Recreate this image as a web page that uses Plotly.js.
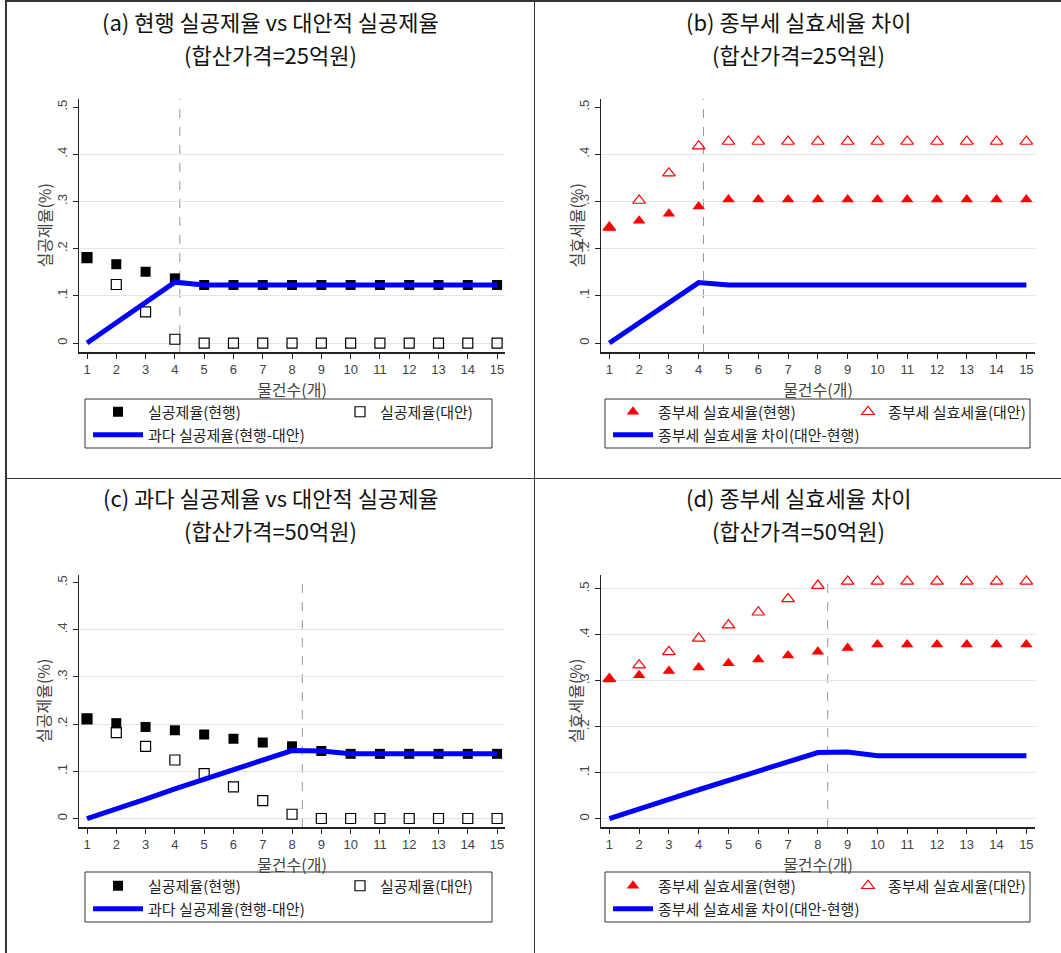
<!DOCTYPE html>
<html><head><meta charset="utf-8">
<script src="https://cdn.plot.ly/plotly-3.0.1.min.js"></script>
<style>
html,body{margin:0;padding:0;background:#fff;}
#page{position:relative;width:1061px;height:953px;overflow:hidden;background:#fff;}
.cell{position:absolute;}
.rule{position:absolute;background:#333;}
</style></head><body>
<div id="page">
  <div class="rule" style="left:5px;top:0;width:2px;height:953px"></div>
  <div class="rule" style="left:5px;top:0;width:1056px;height:2px"></div>
  <div class="rule" style="left:534px;top:0;width:1px;height:953px"></div>
  <div class="rule" style="left:5px;top:478px;width:1056px;height:1px"></div>
  <div id="pa" class="cell" style="left:7px;top:2px;width:527px;height:476px"></div>
  <div id="pb" class="cell" style="left:535px;top:2px;width:526px;height:476px"></div>
  <div id="pc" class="cell" style="left:7px;top:479px;width:527px;height:474px"></div>
  <div id="pd" class="cell" style="left:535px;top:479px;width:526px;height:474px"></div>
</div>
<script>
// ---------- data ----------
const count = [1,2,3,4,5,6,7,8,9,10,11,12,13,14,15];
const xTickText = ['1','2','3','4','5','6','7','8','9','10','11','12','13','14','15'];
const yTickVals = [0, 0.1, 0.2, 0.3, 0.4, 0.5];
const yTickText = ['0', '.1', '.2', '.3', '.4', '.5'];
const gridShort = [0, 0.1, 0.2, 0.3, 0.4];
const gridFull  = [0, 0.1, 0.2, 0.3, 0.4, 0.5];

// (a) 25억원 실공제율
const aCurrent = [0.181,0.167,0.151,0.137,0.123,0.123,0.123,0.123,0.123,0.123,0.123,0.123,0.123,0.123,0.123];
const aAlt     = [0.181,0.124,0.066,0.008,0,0,0,0,0,0,0,0,0,0,0];
const aDiff    = [0,0.043,0.085,0.129,0.123,0.123,0.123,0.123,0.123,0.123,0.123,0.123,0.123,0.123,0.123];
// (b) 25억원 종부세 실효세율
const bCurrent = [0.245,0.259,0.274,0.289,0.304,0.304,0.304,0.304,0.304,0.304,0.304,0.304,0.304,0.304,0.304];
const bAlt     = [0.245,0.302,0.360,0.417,0.427,0.427,0.427,0.427,0.427,0.427,0.427,0.427,0.427,0.427,0.427];
const bDiff    = [0,0.043,0.086,0.128,0.123,0.123,0.123,0.123,0.123,0.123,0.123,0.123,0.123,0.123,0.123];
// (c) 50억원 실공제율
const cCurrent = [0.211,0.202,0.194,0.187,0.178,0.169,0.161,0.153,0.143,0.137,0.137,0.137,0.137,0.137,0.137];
const cAlt     = [0.211,0.182,0.153,0.124,0.095,0.067,0.038,0.009,0,0,0,0,0,0,0];
const cDiff    = [0,0.020,0.041,0.063,0.083,0.102,0.123,0.144,0.143,0.137,0.137,0.137,0.137,0.137,0.137];
// (d) 50억원 종부세 실효세율
const dCurrent = [0.304,0.312,0.321,0.329,0.338,0.346,0.355,0.363,0.371,0.379,0.379,0.379,0.379,0.379,0.379];
const dAlt     = [0.304,0.334,0.363,0.392,0.421,0.449,0.478,0.507,0.516,0.516,0.516,0.516,0.516,0.516,0.516];
const dDiff    = [0,0.022,0.042,0.063,0.083,0.103,0.123,0.144,0.145,0.137,0.137,0.137,0.137,0.137,0.137];

// threshold (vertical dashed line) positions
const thresholds = {a: 4.17, b: 4.16, c: 8.35, d: 8.33};

const titles = {
  a: ['(a) 현행 실공제율 vs 대안적 실공제율', '(합산가격=25억원)'],
  b: ['(b) 종부세 실효세율 차이', '(합산가격=25억원)'],
  c: ['(c) 과다 실공제율 vs 대안적 실공제율', '(합산가격=50억원)'],
  d: ['(d) 종부세 실효세율 차이', '(합산가격=50억원)']
};
const namesDeduct = ['실공제율(현행)', '실공제율(대안)', '과다 실공제율(현행-대안)'];
const namesTax = ['종부세 실효세율(현행)', '종부세 실효세율(대안)', '종부세 실효세율 차이(대안-현행)'];
const xTitle = '물건수(개)';
const yTitleDeduct = '실공제율(%)';
const yTitleTax = '실효세율(%)';

// ---------- drawing ----------
const FONT = 'Liberation Sans, Noto Sans CJK KR, sans-serif';
const KFONT = 'Noto Sans CJK KR, sans-serif';

function panel(div, o) {
  const plotW = o.W - o.l - o.r;
  const plotH = o.H - o.t - o.b;
  const py = p => (o.H - o.b - p) / plotH;   // cell pixel -> paper y
  const px = p => (p - o.l) / plotW;         // cell pixel -> paper x
  const traces = [
    {x: count, y: o.cur, name: o.names[0], type: 'scatter', mode: 'markers', legend: 'legend',
     marker: {symbol: o.sym, size: o.msize, color: o.color, line: {width: 0}}},
    {x: count, y: o.alt, name: o.names[1], type: 'scatter', mode: 'markers', legend: 'legend2',
     marker: {symbol: o.sym + '-open', size: o.msize, color: o.color, line: {width: 1.2, color: o.color}}},
    {x: count, y: o.diff, name: o.names[2], type: 'scatter', mode: 'lines', legend: 'legend3',
     line: {color: '#0000ff', width: 5}}
  ];
  const leg = (x, y, iw) => ({orientation: 'h', x: px(x), xanchor: 'left', y: py(y), yanchor: 'middle',
      borderwidth: 0, bgcolor: 'rgba(0,0,0,0)', itemwidth: iw,
      font: {size: 15, color: '#222', family: KFONT}});
  const titleFont = {size: 22, color: '#111', family: KFONT};
  const layout = {
    width: o.W, height: o.H,
    margin: {l: o.l, r: o.r, t: o.t, b: o.b, pad: 0},
    paper_bgcolor: 'rgba(0,0,0,0)', plot_bgcolor: '#fff',
    font: {family: FONT, color: '#333'},
    showlegend: true,
    xaxis: {range: [o.xr0, o.xr1], tickmode: 'array', tickvals: count, ticktext: xTickText,
      showgrid: false, zeroline: false, showline: true, linecolor: '#222', linewidth: 1.5,
      ticks: 'outside', ticklen: 5, tickcolor: '#222', tickwidth: 1,
      tickfont: {size: 13, color: '#444', family: FONT},
      title: {text: xTitle, standoff: 1, font: {size: 16, color: '#444', family: KFONT}}},
    yaxis: {range: [o.yr0, o.yr1], tickmode: 'array', tickvals: yTickVals, ticktext: yTickText,
      tickangle: -90, showgrid: false, zeroline: false,
      minor: {tickmode: 'array', tickvals: o.grid, ticks: '', showgrid: true, gridcolor: '#e4e4e4', gridwidth: 1},
      showline: true, linecolor: '#222', linewidth: 1.5,
      ticks: 'outside', ticklen: 5, tickcolor: '#222', tickwidth: 1,
      tickfont: {size: 13, color: '#444', family: FONT}},
    legend:  leg(o.i1x, o.row1, o.iw1),
    legend2: leg(o.i2x, o.row1, 30),
    legend3: leg(o.i3x, o.row2, o.iw1),
    shapes: [
      {type: 'line', xref: 'x', yref: 'paper', x0: o.thr, x1: o.thr, y0: 0, y1: 1,
       line: {color: '#999', width: 1, dash: 'dash'}, layer: 'below'},
      {type: 'rect', xref: 'paper', yref: 'paper', x0: px(o.box[0]), x1: px(o.box[1]),
       y0: py(o.box[3]), y1: py(o.box[2]), line: {color: '#333', width: 1}, fillcolor: 'rgba(0,0,0,0)'}
    ],
    annotations: [
      {text: o.title[0], xref: 'paper', yref: 'paper', x: px(o.W / 2), y: py(o.t1),
       xanchor: 'center', yanchor: 'middle', showarrow: false, font: titleFont},
      {text: o.title[1], xref: 'paper', yref: 'paper', x: px(o.W / 2), y: py(o.t2),
       xanchor: 'center', yanchor: 'middle', showarrow: false, font: titleFont},
      {text: o.ytitle, xref: 'paper', yref: 'paper', x: px(o.ytx), y: 0.5, xanchor: 'center', yanchor: 'middle',
       textangle: -90, showarrow: false, font: {size: 16, color: '#444', family: KFONT}}
    ]
  };
  Plotly.newPlot(div, traces, layout, {displayModeBar: false, staticPlot: true});
}

const leftGeom  = {W: 527, l: 72, r: 29, xr0: 0.727, xr1: 15.27, ytx: 36,
  i1x: 81, i2x: 333, i3x: 81, iw1: 50, box: [78, 485]};
const rightGeom = {W: 526, l: 66, r: 26, xr0: 0.72, xr1: 15.29, ytx: 40,
  i1x: 73, i2x: 313, i3x: 73, iw1: 40, box: [70, 495]};
const topGeom = {H: 476, t: 97, b: 126, t1: 19, t2: 52, row1: 410, row2: 433};
const botGeom = {H: 474, t: 96, b: 126, t1: 18, t2: 51, row1: 407, row2: 430};

panel('pa', Object.assign({}, leftGeom, topGeom, {yr0: -0.019, yr1: 0.517, grid: gridShort,
  cur: aCurrent, alt: aAlt, diff: aDiff, names: namesDeduct, sym: 'square', msize: 10, color: '#000',
  ytitle: yTitleDeduct, thr: thresholds.a, title: titles.a}, {box: leftGeom.box.concat([397, 446])}));
panel('pb', Object.assign({}, rightGeom, topGeom, {yr0: -0.019, yr1: 0.517, grid: gridShort,
  cur: bCurrent, alt: bAlt, diff: bDiff, names: namesTax, sym: 'triangle-up', msize: 11, color: '#ff0000',
  ytitle: yTitleTax, thr: thresholds.b, title: titles.b}, {box: rightGeom.box.concat([397, 446])}));
panel('pc', Object.assign({}, leftGeom, botGeom, {yr0: -0.018, yr1: 0.516, grid: gridShort,
  cur: cCurrent, alt: cAlt, diff: cDiff, names: namesDeduct, sym: 'square', msize: 10, color: '#000',
  ytitle: yTitleDeduct, thr: thresholds.c, title: titles.c}, {box: leftGeom.box.concat([393, 443])}));
panel('pd', Object.assign({}, rightGeom, botGeom, {yr0: -0.018, yr1: 0.530, grid: gridFull,
  cur: dCurrent, alt: dAlt, diff: dDiff, names: namesTax, sym: 'triangle-up', msize: 11, color: '#ff0000',
  ytitle: yTitleTax, thr: thresholds.d, title: titles.d}, {box: rightGeom.box.concat([393, 443])}));
</script>
</body></html>
